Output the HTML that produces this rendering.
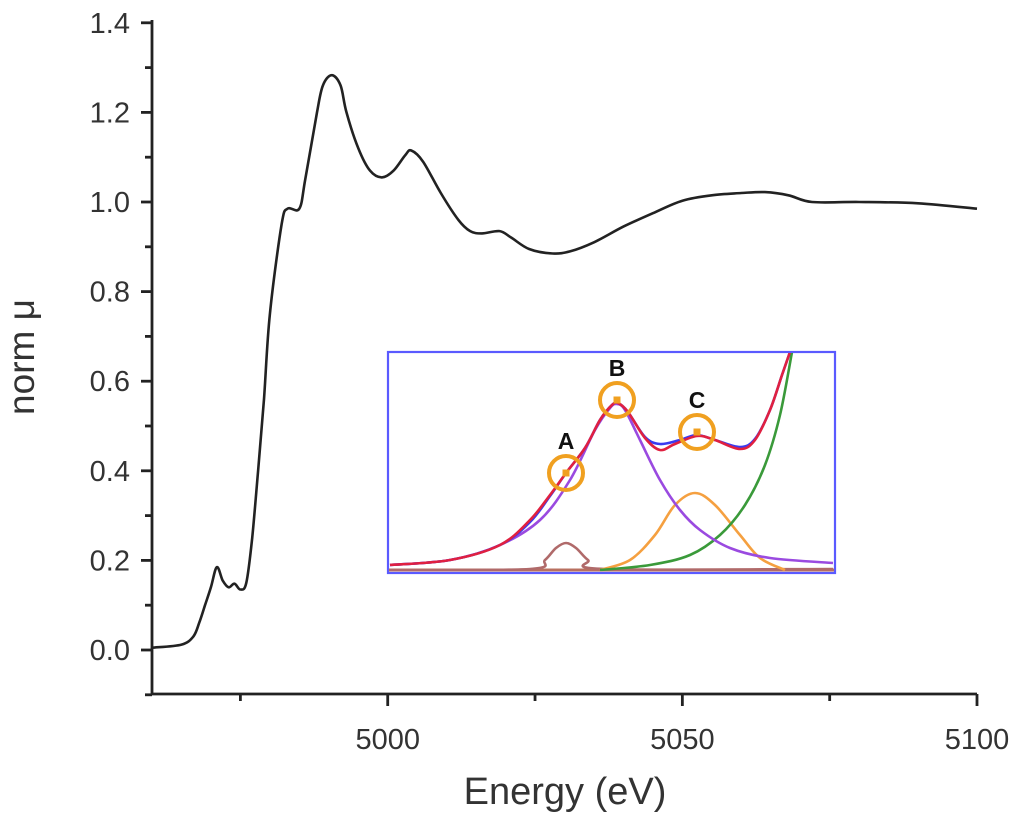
<!DOCTYPE html>
<html><head><meta charset="utf-8"><style>
html,body{margin:0;padding:0;background:#fff;}
svg{display:block;font-family:"Liberation Sans",Arial,sans-serif;}
</style></head><body>
<svg id="chart" width="1024" height="833" viewBox="0 0 1024 833" xmlns="http://www.w3.org/2000/svg">
<rect width="1024" height="833" fill="#fff"/>
<g id="axes"></g>
<g id="main"></g>
<g id="inset"></g>
<text x="565" y="804" font-size="38" fill="#333" text-anchor="middle">Energy (eV)</text>
<text x="34" y="357" font-size="37" fill="#333" text-anchor="middle" transform="rotate(-90 34 357)">norm μ</text>
</svg>
<script>
const energy=[4960,4965,4967,4968,4969,4970,4971,4972,4973,4974,4975,4976,4977,4978,4979,4980,4982,4983,4985,4986,4988,4989,4990.5,4992,4993,4995,4997,4999,5001,5003,5004,5006,5009,5012,5014,5016,5019,5021,5024,5028,5031,5035,5040,5045,5050,5055,5060,5064,5068,5072,5080,5090,5100];
const mu=[0.005,0.012,0.03,0.06,0.10,0.14,0.185,0.155,0.14,0.148,0.135,0.15,0.25,0.40,0.56,0.75,0.95,0.985,0.985,1.05,1.2,1.26,1.283,1.26,1.2,1.12,1.07,1.055,1.07,1.105,1.115,1.09,1.02,0.96,0.935,0.93,0.935,0.92,0.895,0.885,0.89,0.91,0.945,0.975,1.003,1.015,1.02,1.022,1.015,1.0,1.0,0.997,0.985];
const xTicks=[5000,5050,5100];
const xMinor=[4975,5025,5075];
const yTicks=[0.0,0.2,0.4,0.6,0.8,1.0,1.2,1.4];
const yTickLabels=["0.0","0.2","0.4","0.6","0.8","1.0","1.2","1.4"];
const yMinor=[-0.1,0.1,0.3,0.5,0.7,0.9,1.1,1.3];
const purpleX=[0,60,110,150,180,205,220,227,235,250,270,290,310,340,380,443];
const purpleY=[3,8,23,48,88,138,160,164,158,128,88,58,38,20,10,5];
const redX=[0,60,110,140,160,176,195,210,222,228,238,255,270,285,307,325,350,365,380,392,400];
const redY=[3,8,23,48,73,95,120,148,163,165,156,130,118,124,132,128,119,128,158,193,216];
const blueX=[0,60,110,140,160,176,195,210,222,228,238,255,270,290,307,325,350,365,380,392,400];
const blueY=[3,8,23,46,72,95,120,148,163,165,156,131,124,128,133,128,121,129,158,193,216];
const brownX=[0,140,155,166,176,186,198,215,443];
const brownY=[-2,-1,8,20,25,20,8,-1,-1];
const orangeX=[210,240,265,285,305,325,350,370,395];
const orangeY=[-2,8,33,63,75,63,33,10,-2];
const greenX=[210,260,300,330,355,375,390,402];
const greenY=[-2,3,13,33,63,103,153,216];
const markX=[176,227,307];
const markY=[95,168,136];
const markLabels=["A","B","C"];

const NS="http://www.w3.org/2000/svg";
const X0=4960,X1=5100,PX0=152,PX1=977;
const sx=v=>PX0+(v-X0)*(PX1-PX0)/(X1-X0);
const sy=v=>650-v*448;
function mk(tag,attrs,parent){const e=document.createElementNS(NS,tag);for(const k in attrs)e.setAttribute(k,attrs[k]);parent.appendChild(e);return e;}
function smooth(pts){let d="M"+pts[0][0]+","+pts[0][1];for(let i=0;i<pts.length-1;i++){const p0=pts[Math.max(0,i-1)],p1=pts[i],p2=pts[i+1],p3=pts[Math.min(pts.length-1,i+2)];const c1=[p1[0]+(p2[0]-p0[0])/6,p1[1]+(p2[1]-p0[1])/6],c2=[p2[0]-(p3[0]-p1[0])/6,p2[1]-(p3[1]-p1[1])/6];d+=" C"+c1[0].toFixed(1)+","+c1[1].toFixed(1)+" "+c2[0].toFixed(1)+","+c2[1].toFixed(1)+" "+p2[0].toFixed(1)+","+p2[1].toFixed(1);}return d;}

const ax=document.getElementById('axes');
let l=mk('path',{d:"M152,20 V694 H977",fill:"none",stroke:"#222","stroke-width":2.8},ax);


yTicks.forEach((v,i)=>{const y=sy(v);
 let t=mk('line',{x1:141,x2:152,y1:y,y2:y,stroke:"#222","stroke-width":2.8},ax);
 
 
 let tx=mk('text',{x:130,y:y+10,"font-size":29,fill:"#333","text-anchor":"end"},ax);tx.textContent=yTickLabels[i];
 
 });
yMinor.forEach(v=>{const y=sy(v);let t=mk('line',{x1:145,x2:152,y1:y,y2:y,stroke:"#222","stroke-width":2.8},ax);
 
 });
xTicks.forEach(v=>{const x=sx(v);let t=mk('line',{x1:x,x2:x,y1:694,y2:706,stroke:"#222","stroke-width":2.8},ax);
 
 
 let tx=mk('text',{x:x,y:749,"font-size":29,fill:"#333","text-anchor":"middle"},ax);tx.textContent=v;
 
 });
xMinor.forEach(v=>{const x=sx(v);let t=mk('line',{x1:x,x2:x,y1:694,y2:701,stroke:"#222","stroke-width":2.8},ax);
 
 });

const mg=document.getElementById('main');
let p=mk('path',{d:smooth(energy.map((e,i)=>[sx(e),sy(mu[i])])),fill:"none",stroke:"#222","stroke-width":2.6},mg);



const ig=document.getElementById('inset');
const ix=v=>390+v, iy=v=>568-v;
let fr=mk('rect',{x:388,y:352,width:447,height:221,fill:"#fff",stroke:"#5a5aff","stroke-width":2.2},ig);


mk('defs',{},ig).innerHTML='<clipPath id="ic"><rect x="389" y="353" width="445" height="219"/></clipPath>';
const cg=mk('g',{"clip-path":"url(#ic)"},ig);
let bl=mk('line',{x1:389,x2:834,y1:570,y2:570,stroke:"#b87060","stroke-width":3},cg);


const series=[["brown-fit",brownX,brownY,"#b06a6a"],["orange-fit",orangeX,orangeY,"#f5a040"],["green-fit",greenX,greenY,"#3a9a3a"],["purple-fit",purpleX,purpleY,"#9a4ae0"],["blue-data",blueX,blueY,"#3a3af0"],["red-fit",redX,redY,"#e02040"]];
series.forEach(s=>{let e=mk('path',{d:smooth(s[1].map((x,i)=>[ix(x),iy(s[2][i])])),fill:"none",stroke:s[3],"stroke-width":2.6},cg);
 
 });
markX.forEach((x,i)=>{const cx=ix(x),cy=iy(markY[i]);
 let c=mk('circle',{cx:cx,cy:cy,r:17,fill:"none",stroke:"#f0a020","stroke-width":4},ig);
 
 
 let d=mk('rect',{x:cx-3.5,y:cy-3.5,width:7,height:7,fill:"#f0a020"},ig);
 
 
 let t=mk('text',{x:cx,y:cy-24,"font-size":23,"font-weight":"bold",fill:"#111","text-anchor":"middle"},ig);t.textContent=markLabels[i];
 
 });
</script>
</body></html>
